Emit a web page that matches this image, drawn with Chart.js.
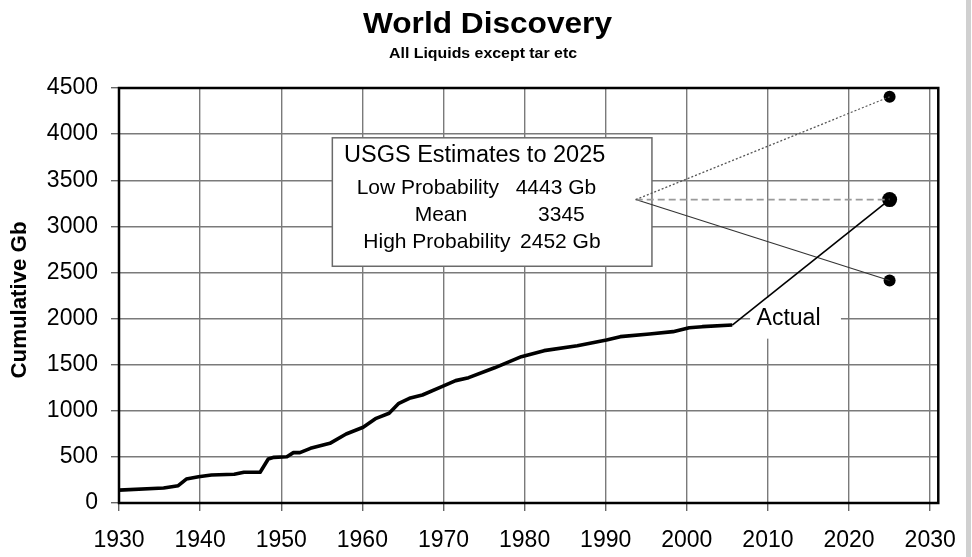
<!DOCTYPE html>
<html><head><meta charset="utf-8">
<script src="https://cdn.jsdelivr.net/npm/chart.js@4.4.0/dist/chart.umd.min.js"></script>
<style>html,body{margin:0;padding:0;background:#fff;overflow:hidden}#wrap{width:972px;height:557px}</style>
</head><body><div id="wrap"><canvas id="c" width="972" height="557"></canvas></div>
<script>
// ---- data ----
const years = [1930, 1935.5, 1937.3, 1938.3, 1939.8, 1941.4, 1944.2, 1945.4, 1947.4, 1948.4, 1949.1, 1950.7, 1951.5, 1952.3, 1953.6, 1956.0, 1958.0, 1960.1, 1961.7, 1963.3, 1964.5, 1965.8, 1967.4, 1969.8, 1971.5, 1973.1, 1976.3, 1979.6, 1982.4, 1986.5, 1990.1, 1991.8, 1995.4, 1998.3, 2000.3, 2001.9, 2005.6];
const cumulativeGb = [140, 163, 188, 260, 285, 304, 311, 333, 333, 477, 495, 502, 546, 546, 593, 647, 748, 821, 918, 973, 1081, 1135, 1171, 1261, 1327, 1359, 1466, 1587, 1652, 1706, 1768, 1804, 1833, 1858, 1901, 1912, 1930];
const estimateYear = 2025;
const estimateNames = ['Low Probability', 'Mean', 'High Probability'];
const estimateValues = [4404, 3290, 2412];
const estimateTexts = ['4443 Gb', '3345', '2452 Gb'];
const fanOrigin = {x: 1993.7, y: 3290};
const xTicks = [1930, 1940, 1950, 1960, 1970, 1980, 1990, 2000, 2010, 2020, 2030];
const yTicks = [0, 500, 1000, 1500, 2000, 2500, 3000, 3500, 4000, 4500];
const titleText = 'World Discovery';
const subtitleText = 'All Liquids except tar etc';
const yAxisTitle = 'Cumulative Gb';
const boxTitle = 'USGS Estimates to 2025';
const actualLabel = 'Actual';

const FONT = '"Liberation Sans", Arial, sans-serif';
const lastX = years[years.length - 1], lastY = cumulativeGb[cumulativeGb.length - 1];

function wideText(ctx, text, x, y, targetW) {
  const w = ctx.measureText(text).width;
  ctx.save(); ctx.translate(x, y); ctx.scale(targetW / w, 1); ctx.fillText(text, 0, 0); ctx.restore();
}

const decor = {
  id: 'decor',
  beforeDraw(chart) {
    const ctx = chart.ctx;
    ctx.save();
    ctx.fillStyle = '#fff';
    ctx.fillRect(0, 0, chart.width, chart.height);
    ctx.fillStyle = '#000';
    ctx.textAlign = 'center';
    ctx.textBaseline = 'alphabetic';
    ctx.font = 'bold 29px ' + FONT;
    wideText(ctx, titleText, 487.5, 33, 249);
    ctx.font = 'bold 15px ' + FONT;
    wideText(ctx, subtitleText, 483, 58, 188);
    // y axis title
    ctx.save();
    ctx.translate(20, 300);
    ctx.rotate(-Math.PI / 2);
    ctx.textBaseline = 'middle';
    ctx.font = 'bold 22px ' + FONT;
    wideText(ctx, yAxisTitle, 0, 0, 157);
    ctx.restore();
    ctx.restore();
  },
  beforeDatasetsDraw(chart) {
    const ctx = chart.ctx, xs = chart.scales.x, ys = chart.scales.y;
    ctx.save();
    const bx = xs.getPixelForValue(1956.3), by = ys.getPixelForValue(3960);
    const bx2 = xs.getPixelForValue(1995.7), by2 = ys.getPixelForValue(2567);
    ctx.fillStyle = '#fff';
    ctx.fillRect(bx, by, bx2 - bx, by2 - by);
    ctx.strokeStyle = '#6a6a6a';
    ctx.lineWidth = 1.5;
    ctx.strokeRect(bx, by, bx2 - bx, by2 - by);
    ctx.fillStyle = '#000';
    ctx.textAlign = 'left';
    ctx.textBaseline = 'alphabetic';
    ctx.font = '23.5px ' + FONT;
    ctx.fillText(boxTitle, bx + 11.7, by + 24);
    ctx.font = '21px ' + FONT;
    const nameX = [24.3, 82.3, 31], valX = [183.3, 205.7, 187.7], rowY = [56, 83.4, 110];
    for (let i = 0; i < 3; i++) {
      ctx.fillText(estimateNames[i], bx + nameX[i], by + rowY[i]);
      ctx.fillText(estimateTexts[i], bx + valX[i], by + rowY[i]);
    }
    const ax = xs.getPixelForValue(2007.8), ay = ys.getPixelForValue(2227);
    const ax2 = xs.getPixelForValue(2019.0), ay2 = ys.getPixelForValue(1782);
    ctx.fillStyle = '#fff';
    ctx.fillRect(ax, ay, ax2 - ax, ay2 - ay);
    ctx.fillStyle = '#000';
    ctx.font = '23px ' + FONT;
    ctx.fillText(actualLabel, xs.getPixelForValue(2008.6), ys.getPixelForValue(1930));
    ctx.restore();
  },
  afterDatasetsDraw(chart) {
    const ctx = chart.ctx, a = chart.chartArea;
    ctx.save();
    ctx.strokeStyle = '#000';
    ctx.lineWidth = 2.5;
    ctx.strokeRect(a.left, a.top, a.right - a.left, a.bottom - a.top);
    ctx.fillStyle = '#d0d0d0';
    ctx.fillRect(966, 0, 5, chart.height);
    ctx.restore();
  }
};

const pts = years.map((y, i) => ({x: y, y: cumulativeGb[i]}));

new Chart(document.getElementById('c'), {
  type: 'line',
  data: {
    datasets: [
      {data: pts, borderColor: '#000', borderWidth: 3.6, pointRadius: 0, tension: 0, borderJoinStyle: 'round'},
      {data: [{x: lastX, y: lastY}, {x: estimateYear, y: estimateValues[1]}], borderColor: '#000', borderWidth: 1.6, pointRadius: 0},
      {data: [fanOrigin, {x: estimateYear, y: estimateValues[0]}], borderColor: '#555', borderWidth: 1.2, borderDash: [2, 2], pointRadius: 0},
      {data: [fanOrigin, {x: estimateYear, y: estimateValues[1]}], borderColor: '#9a9a9a', borderWidth: 1.6, borderDash: [7, 4], pointRadius: 0},
      {data: [fanOrigin, {x: estimateYear, y: estimateValues[2]}], borderColor: '#333', borderWidth: 1.1, pointRadius: 0},
      {data: estimateValues.map(v => ({x: estimateYear, y: v})), showLine: false, pointRadius: [6, 7.5, 6],
       pointBackgroundColor: '#000', pointBorderWidth: 0, borderColor: '#000'}
    ]
  },
  options: {
    responsive: false,
    animation: false,
    devicePixelRatio: 1,
    layout: {padding: {top: 88, right: 25, left: 0, bottom: 0}},
    plugins: {legend: {display: false}, title: {display: false}, tooltip: {enabled: false}},
    scales: {
      x: {
        type: 'linear', min: 1930, max: 2031,
        afterBuildTicks: s => { s.ticks = xTicks.map(v => ({value: v})); },
        afterFit: s => { s.height = 54; },
        ticks: {font: {size: 23, family: FONT}, color: '#000', padding: 16, maxRotation: 0, autoSkip: false,
                callback: v => String(v)},
        grid: {color: '#7a7a7a', lineWidth: 1.4, tickLength: 8, tickColor: '#666', tickWidth: 1.4},
        border: {display: false}
      },
      y: {
        type: 'linear', min: 0, max: 4500,
        afterBuildTicks: s => { s.ticks = yTicks.map(v => ({value: v})); },
        afterFit: s => { s.width = 119; },
        ticks: {font: {size: 23, family: FONT}, color: '#000', padding: 13, callback: v => String(v)},
        grid: {color: '#7a7a7a', lineWidth: 1.4, tickLength: 8, tickColor: '#666', tickWidth: 1.4},
        border: {display: false},
        title: {display: false}
      }
    }
  },
  plugins: [decor]
});
</script>
</body></html>
